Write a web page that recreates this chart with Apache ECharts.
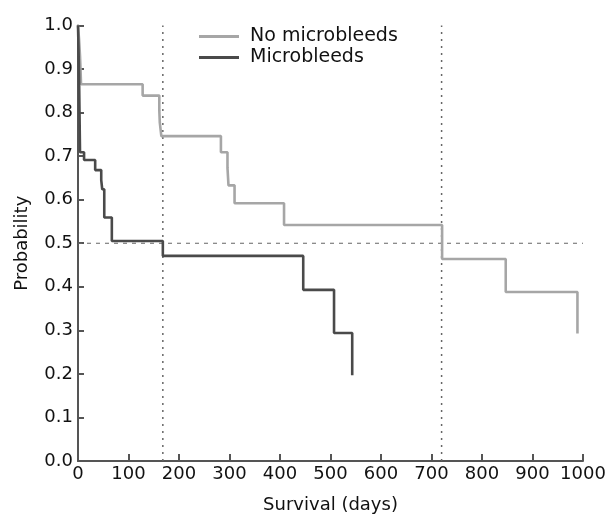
<!DOCTYPE html>
<html>
<head>
<meta charset="utf-8">
<script src="https://cdn.jsdelivr.net/npm/echarts@6/dist/echarts.min.js"></script>
<style>html,body{margin:0;padding:0;background:#fff}#c{width:611px;height:519px}</style>
</head>
<body>
<div id="c"></div>
<script>
// Kaplan-Meier step data (day of event, survival probability after event)
const noMbDays = [0, 2, 4, 5, 6, 128, 161, 162, 165, 283, 296, 298, 310, 408, 721, 847, 989];
const noMbProb = [1.0, 0.97, 0.93, 0.90, 0.865, 0.839, 0.805, 0.777, 0.746, 0.709, 0.673, 0.633, 0.592, 0.542, 0.464, 0.388, 0.293];
const mbDays = [0, 1, 2, 3, 4, 12, 34, 46, 48, 52, 67, 168, 446, 507, 543];
const mbProb = [1.0, 0.95, 0.89, 0.80, 0.709, 0.691, 0.668, 0.645, 0.624, 0.559, 0.505, 0.471, 0.393, 0.294, 0.197];
const medianDays = [168, 720];
const refProb = 0.5;

const font = 'DejaVu Sans';
const chart = echarts.init(document.getElementById('c'), null, {renderer: 'canvas'});
const zip = (a, b) => a.map((v, i) => [v, b[i]]);
const dotted = medianDays.map(d => ({
  type: 'line', data: [[d, 0], [d, 1]], symbol: 'none', silent: true,
  lineStyle: {color: '#666', width: 1.5, type: [2, 5]}, z: 1
}));
chart.setOption({
  animation: false,
  grid: {left: 78, right: 28, top: 25.5, bottom: 51.3, containLabel: false},
  legend: {
    left: 194, top: 22, orient: 'vertical', itemWidth: 40, itemHeight: 3, itemGap: 2,
    icon: 'rect',
    data: ['No microbleeds', 'Microbleeds'],
    textStyle: {fontFamily: font, fontSize: 19, color: '#111', padding: [0, 0, 0, 6]}
  },
  xAxis: {
    type: 'value', min: 0, max: 1000, interval: 100,
    name: 'Survival (days)', nameLocation: 'middle', nameGap: 35,
    nameTextStyle: {fontFamily: font, fontSize: 18, color: '#111'},
    axisLine: {show: true, lineStyle: {color: '#555', width: 2}},
    axisTick: {show: true, inside: true, length: 7, lineStyle: {color: '#555', width: 2}},
    axisLabel: {fontFamily: font, fontSize: 18, color: '#111', margin: 4, formatter: v => String(v)},
    splitLine: {show: false}
  },
  yAxis: {
    type: 'value', min: 0, max: 1, interval: 0.1,
    name: 'Probability', nameLocation: 'middle', nameGap: 47,
    nameTextStyle: {fontFamily: font, fontSize: 18, color: '#111'},
    axisLine: {show: true, lineStyle: {color: '#555', width: 2}},
    axisTick: {show: true, inside: true, length: 6, lineStyle: {color: '#555', width: 2}},
    axisLabel: {fontFamily: font, fontSize: 18, color: '#111', margin: 5, formatter: v => v.toFixed(1)},
    splitLine: {show: false}
  },
  series: [
    {
      type: 'line', data: [[0, refProb], [1000, refProb]], symbol: 'none', silent: true,
      lineStyle: {color: '#666', width: 1.2, type: [4, 5]}, z: 1
    },
    ...dotted,
    {
      name: 'No microbleeds', type: 'line', step: 'end', symbol: 'none',
      data: zip(noMbDays, noMbProb), color: '#a6a6a6',
      lineStyle: {color: '#a6a6a6', width: 2.6}, z: 3
    },
    {
      name: 'Microbleeds', type: 'line', step: 'end', symbol: 'none',
      data: zip(mbDays, mbProb), color: '#4a4a4a',
      lineStyle: {color: '#4a4a4a', width: 2.6}, z: 4
    }
  ]
});
</script>
</body>
</html>
